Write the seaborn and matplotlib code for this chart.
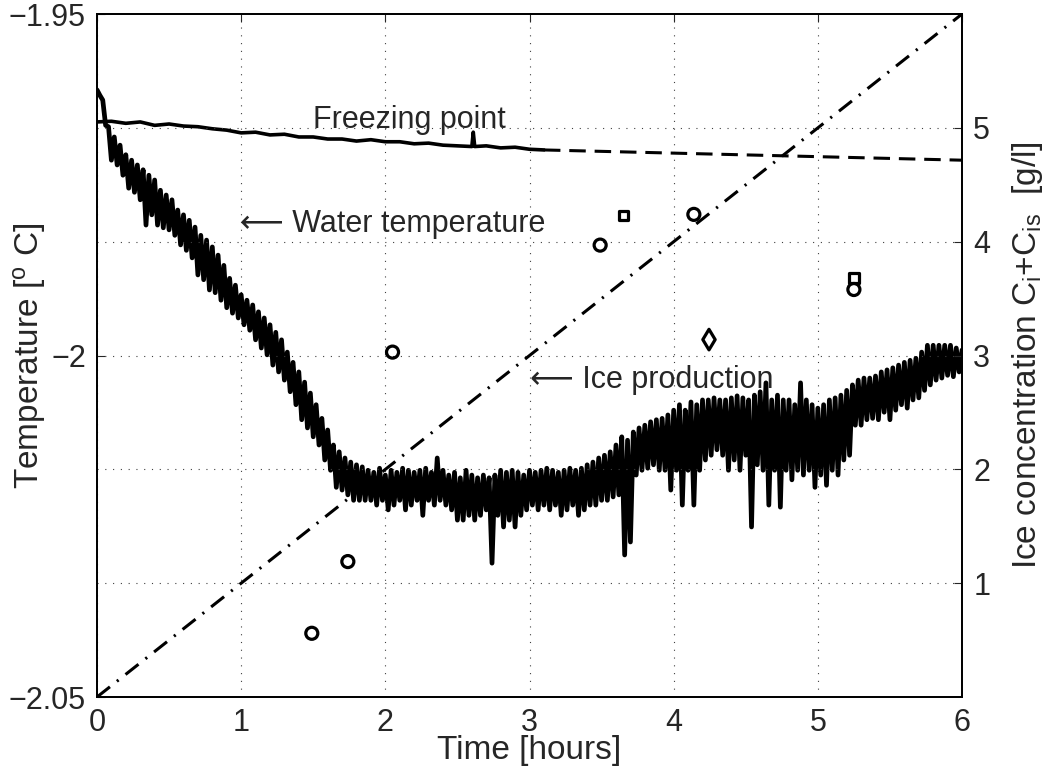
"""
Water temperature, freezing point and ice concentration vs time
"""

import numpy as np
import pandas as pd
import matplotlib
matplotlib.use('Agg')
import matplotlib.pyplot as plt
import seaborn as sns

# water temperature, read as upper / lower edge of the noisy trace every 0.04 h
water_hi = [-1.9611, -1.9626, -1.9665, -1.9680, -1.9692, -1.9706, -1.9714, -1.9721, -1.9728, -1.9736,
            -1.9743, -1.9758, -1.9765, -1.9772, -1.9787, -1.9794, -1.9802, -1.9812, -1.9824, -1.9831,
            -1.9841, -1.9853, -1.9868, -1.9887, -1.9897, -1.9911, -1.9919, -1.9926, -1.9936, -1.9945,
            -1.9955, -1.9966, -1.9977, -1.9995, -2.0010, -2.0024, -2.0039, -2.0055, -2.0072, -2.0092,
            -2.0109, -2.0131, -2.0141, -2.0150, -2.0156, -2.0160, -2.0163, -2.0168,
            -2.0171, -2.0165, -2.0175, -2.0168, -2.0171, -2.0165, -2.0168, -2.0171, -2.0168, -2.0165,
            -2.0171, -2.0150, -2.0168, -2.0175, -2.0171, -2.0179, -2.0168, -2.0175, -2.0179, -2.0175,
            -2.0179, -2.0175, -2.0168, -2.0171, -2.0168, -2.0171, -2.0175, -2.0168, -2.0171, -2.0168,
            -2.0165, -2.0168, -2.0171, -2.0168, -2.0165, -2.0168, -2.0165, -2.0160,
            -2.0156, -2.0150, -2.0146, -2.0141, -2.0131, -2.0119, -2.0124, -2.0112, -2.0106, -2.0102,
            -2.0097, -2.0094, -2.0092, -2.0087, -2.0080, -2.0072, -2.0080, -2.0068, -2.0072, -2.0065,
            -2.0065, -2.0062, -2.0065, -2.0065, -2.0062, -2.0059, -2.0062, -2.0065, -2.0058, -2.0053,
            -2.0040, -2.0065, -2.0058, -2.0065, -2.0065, -2.0072, -2.0040, -2.0065, -2.0072, -2.0077,
            -2.0072, -2.0065, -2.0062, -2.0058, -2.0051, -2.0043, -2.0036, -2.0033, -2.0033, -2.0030,
            -2.0024, -2.0021, -2.0018, -2.0014, -2.0010, -2.0007, -2.0004, -1.9995, -1.9985, -1.9985,
            -1.9985, -1.9985, -1.9985, -1.9989, -1.9992]
water_lo = [-1.9619, -1.9663, -1.9714, -1.9721, -1.9736, -1.9755, -1.9761, -1.9772, -1.9809, -1.9794,
            -1.9809, -1.9813, -1.9816, -1.9824, -1.9838, -1.9846, -1.9857, -1.9882, -1.9889, -1.9904,
            -1.9908, -1.9919, -1.9930, -1.9938, -1.9945, -1.9955, -1.9963, -1.9977, -1.9989, -1.9999,
            -2.0014, -2.0024, -2.0036, -2.0053, -2.0072, -2.0094, -2.0106, -2.0119, -2.0131, -2.0153,
            -2.0168, -2.0193, -2.0197, -2.0204, -2.0212, -2.0212, -2.0212, -2.0212,
            -2.0219, -2.0212, -2.0226, -2.0219, -2.0212, -2.0226, -2.0219, -2.0212, -2.0234, -2.0212,
            -2.0219, -2.0212, -2.0219, -2.0226, -2.0241, -2.0241, -2.0234, -2.0241, -2.0234, -2.0226,
            -2.0304, -2.0234, -2.0251, -2.0241, -2.0251, -2.0234, -2.0226, -2.0219, -2.0226, -2.0219,
            -2.0226, -2.0219, -2.0234, -2.0226, -2.0219, -2.0234, -2.0226, -2.0219,
            -2.0219, -2.0212, -2.0212, -2.0207, -2.0204, -2.0292, -2.0273, -2.0175, -2.0168, -2.0165,
            -2.0160, -2.0168, -2.0168, -2.0197, -2.0168, -2.0219, -2.0168, -2.0219, -2.0168, -2.0153,
            -2.0146, -2.0138, -2.0146, -2.0168, -2.0153, -2.0168, -2.0146, -2.0251, -2.0160, -2.0168,
            -2.0219, -2.0168, -2.0222, -2.0168, -2.0182, -2.0168, -2.0175, -2.0168, -2.0193, -2.0175,
            -2.0190, -2.0168, -2.0175, -2.0153, -2.0146, -2.0102, -2.0102, -2.0094, -2.0092, -2.0094,
            -2.0083, -2.0094, -2.0080, -2.0072, -2.0077, -2.0065, -2.0062, -2.0051, -2.0043, -2.0036,
            -2.0033, -2.0029, -2.0031, -2.0024, -2.0014]

freeze_time = [0.0, 0.1, 0.2, 0.3, 0.4, 0.5, 0.6, 0.7, 0.8, 0.9, 1.0, 1.1, 1.2, 1.3, 1.4, 1.5, 1.6,
               1.7, 1.8, 1.9, 2.0, 2.1, 2.2, 2.3, 2.4, 2.5, 2.6, 2.61, 2.62, 2.7, 2.8, 2.9, 3.0, 3.1]
freeze_temp = [-1.9658, -1.9657, -1.9660, -1.9658, -1.9663, -1.9661, -1.9664, -1.9665, -1.9668,
               -1.9670, -1.9674, -1.9673, -1.9677, -1.9676, -1.9680, -1.9680, -1.9683, -1.9683,
               -1.9686, -1.9684, -1.9687, -1.9687, -1.9690, -1.9689, -1.9692, -1.9693, -1.9694,
               -1.9673, -1.9694, -1.9693, -1.9696, -1.9695, -1.9698, -1.9699]
freeze_ext_time = [3.1, 6.0]
freeze_ext_temp = [-1.9699, -1.9714]

ice_time = [0.0, 6.0]
ice_prod = [0.0, 6.0]

circle_time = [1.49, 1.74, 2.05, 3.49, 4.14, 5.25]
circle_conc = [0.56, 1.19, 3.03, 3.97, 4.24, 3.58]
square_time = [3.65, 5.25]
square_conc = [4.23, 3.68]
diamond_time = [4.245]
diamond_conc = [3.14]

sns.set_style('white')
plt.rcParams['font.family'] = ['Liberation Sans', 'DejaVu Sans']
plt.rcParams['mathtext.fontset'] = 'custom'
plt.rcParams['mathtext.rm'] = 'Liberation Sans'
plt.rcParams['mathtext.it'] = 'Liberation Sans:italic'
plt.rcParams['axes.unicode_minus'] = True
fs = 22
fl = 24

fig = plt.figure(figsize=(10.53, 7.75), dpi=100)
ax = fig.add_axes([0.0921, 0.1006, 0.8215, 0.8813])

# interleave upper/lower readings to rebuild the noisy trace
t = np.linspace(0, 6, len(water_hi))
water = pd.DataFrame({'time': np.column_stack([t, t + 0.02]).ravel(),
                      'temp': np.column_stack([water_hi, water_lo]).ravel()})
sns.lineplot(data=water, x='time', y='temp', ax=ax, color='black', lw=3.4,
             estimator=None, sort=False)
sns.lineplot(x=freeze_time, y=freeze_temp, ax=ax, color='black', lw=2.6,
             estimator=None, sort=False)
sns.lineplot(x=freeze_ext_time, y=freeze_ext_temp, ax=ax, color='black', lw=2.2,
             dashes=False, estimator=None)
ax.lines[-1].set_dashes((5.4, 2.9))

ax.set_xlim(0, 6)
ax.set_ylim(-2.05, -1.95)
ax.set_xticks([0, 1, 2, 3, 4, 5, 6])
ax.set_yticks([-2.05, -2.0, -1.95])
ax.set_yticklabels(['\u22122.05', '\u22122', '\u22121.95'])
ax.xaxis.grid(True, color='0.25', lw=0.8, ls=(0, (1, 6)))
ax.tick_params(direction='in', length=6, width=0.8, labelsize=fs, top=True, right=False, pad=8)
ax.set_xlabel('Time [hours]', fontsize=fl)
ax.xaxis.set_label_coords(0.5, -0.056)
ax.set_ylabel('Temperature [$^{\\mathrm{o}}$ C]', fontsize=fl)
ax.yaxis.set_label_coords(-0.057, 0.5)

ax.text(1.50, -1.9667, 'Freezing point', fontsize=fs, ha='left', va='baseline')
ax.text(0.99, -1.9819, '\u27f5 Water temperature', fontsize=fs, ha='left', va='baseline')
ax.text(3.0, -2.0048, '\u27f5 Ice production', fontsize=fs, ha='left', va='baseline')

ax2 = ax.twinx()
sns.lineplot(x=ice_time, y=ice_prod, ax=ax2, color='black', lw=2.2, estimator=None)
ax2.lines[-1].set_dashes((5.4, 2.9, 0.7, 2.9))
sns.scatterplot(x=circle_time, y=circle_conc, ax=ax2, marker='o', s=75, color='black',
                facecolor='none', edgecolor='black', linewidth=2.3)
sns.scatterplot(x=square_time, y=square_conc, ax=ax2, marker='s', s=45, color='black',
                facecolor='none', edgecolor='black', linewidth=2.3)
sns.scatterplot(x=diamond_time, y=diamond_conc, ax=ax2, marker='d', s=110, color='black',
                facecolor='none', edgecolor='black', linewidth=2.3)
ax2.set_xlim(0, 6)
ax2.set_ylim(0, 6)
ax2.set_yticks([1, 2, 3, 4, 5])
ax2.yaxis.grid(True, color='0.25', lw=0.8, ls=(0, (1, 6)))
ax2.tick_params(direction='in', length=6, width=0.8, labelsize=fs, pad=8)
ax2.set_ylabel('Ice concentration C$_{\\mathrm{i}}$+C$_{\\mathrm{is}}$  [g/l]', fontsize=fl)
ax2.yaxis.set_label_coords(1.055, 0.5)

for a in (ax, ax2):
    for s in a.spines.values():
        s.set_color('black')
        s.set_linewidth(1.3)

fig.savefig('out.png', dpi=100)
plt.close()
